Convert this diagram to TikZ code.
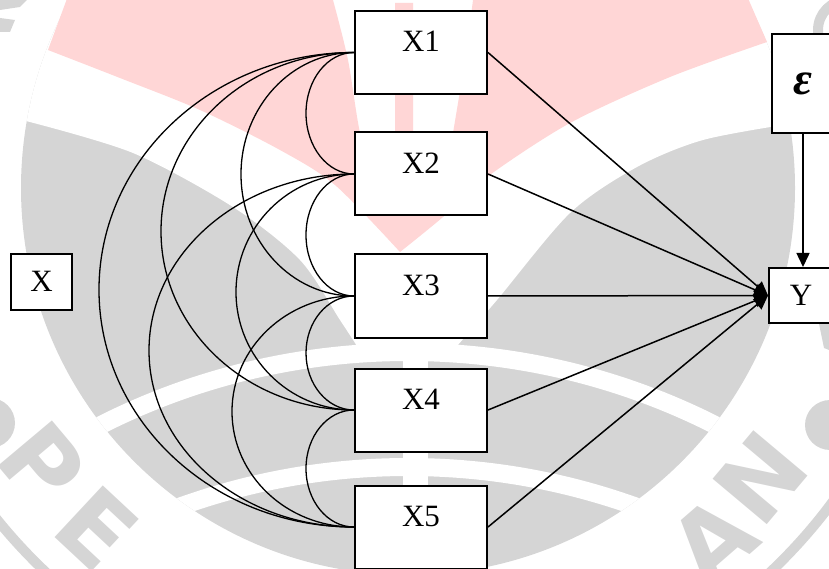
\documentclass[tikz,border=0pt]{standalone}
\usepackage{fontspec}
\setmainfont{Liberation Serif}
\newfontfamily\ringfont{DejaVu Sans}
\usetikzlibrary{arrows.meta,calc}

\definecolor{wmgray}{RGB}{213,213,213}
\definecolor{wmpink}{RGB}{255,214,214}

\newcommand\lblfont{\fontsize{31}{31}\selectfont}
\newcommand\ringletter{\ringfont\bfseries\fontsize{97}{97}\selectfont}

\tikzset{
  varbox/.style={draw, line width=2pt, fill=white, minimum width=132pt,
    inner xsep=0pt, inner ysep=0pt, text height=41pt, text depth=42pt, font=\lblfont},
  endbox/.style={draw, line width=2pt, fill=white, inner sep=0pt,
    text height=20pt, text depth=0pt, font=\lblfont},
  effect/.style={line width=1.5pt, -{Triangle[length=14pt,width=13pt]}},
  corr/.style={line width=1.3pt},
  ringmark/.style={text=wmgray, font=\ringletter, inner sep=0pt}
}

% correlation arc: half ellipse on the left side of two boxes
\newcommand\corrarc[3]{%
  \draw[corr] let \p1=(#1.west), \p2=(#2.west) in
    (\p1) arc[start angle=90, end angle=270, x radius=#3pt, y radius={0.5*(\y1-\y2)}];}

\begin{document}
\begin{tikzpicture}[x=1pt,y=1pt]
\useasboundingbox (0,0) rectangle (829,568);
\clip (0,0) rectangle (829,568);

% ---- emblem in the background ----
\fill[wmgray] (408,380) circle[radius=387];
\begin{scope}
  \clip (408,380) circle[radius=387];
  \fill[white, even odd rule] (408,-465) circle[radius=690] (408,-465) circle[radius=672];
  \fill[white, even odd rule] (408,-572) circle[radius=682] (408,-572) circle[radius=664];
  \fill[white] (403,-10) rectangle (428,226);
  \fill[white] (10,447) -- (26,447)
    -- plot[smooth] coordinates {(26,447) (133,415) (233,361) (300,308) (340,248) (357,222)}
    -- (457,222)
    -- plot[smooth] coordinates {(457,222) (497,268) (570,355) (637,401) (703,428) (789,444)}
    -- (800,444) -- (800,600) -- (10,600) -- cycle;
\end{scope}
\draw[wmgray, line width=10pt] (408,380) circle[radius=528];
\fill[wmpink] (48,518) -- (68,572) -- (331,572)
  -- plot[smooth] coordinates {(333,568) (348,508) (360,435) (378,368)}
  -- (395,380) -- (395,565) -- (413,565) -- (413,380) -- (432,368)
  -- plot[smooth] coordinates {(453,435) (465,508) (473,568)}
  -- (473,572) -- (747,572) -- (767,526)
  -- plot[smooth] coordinates {(767,526) (670,491) (570,445) (487,391) (443,351) (400,316)}
  -- plot[smooth] coordinates {(400,316) (335,383) (280,418) (200,458) (120,490) (48,518)}
  -- cycle;
\node[ringmark, rotate=-50] (ringP) at (42,104) {P};
\node[ringmark, rotate=-43] (ringE) at (97,40) {E};
\node[ringmark, rotate=50] (ringN) at (760,90) {N};
\node[ringmark, rotate=41] (ringA) at (713,28) {A};
\fill[wmgray] (830,143) circle[radius=25];
\fill[wmgray] (-10,145) circle[radius=25];
\fill[wmgray] (818,249) -- (829,252) -- (829,218) -- (824,220) -- cycle;
\draw[wmgray, line width=10pt] (848,538) circle[radius=30];
\fill[wmgray] (0,568) -- (27,568) -- (20,561) -- (0,558) -- cycle;
\fill[wmgray] (0,550) -- (15,548) -- (10,536) -- (0,536) -- cycle;

% ---- boxes ----
\node[varbox] (X1) at (421,515.5) {X1};
\node[varbox] (X2) at (421,394) {X2};
\node[varbox] (X3) at (421,272) {X3};
\node[varbox] (X4) at (421,158) {X4};
\node[varbox] (X5) at (421,41) {X5};
\node[endbox, minimum width=61pt, minimum height=56pt] (X) at (41.5,286) {X};
\node[endbox, minimum width=64pt, minimum height=55pt] (Y) at (801,272.5) {Y};
\node[draw, line width=2pt, fill=white, inner sep=0pt, minimum width=62pt,
  minimum height=99pt, font=\fontsize{46}{46}\selectfont\bfseries\itshape]
  (eps) at (803,484.5) {ε};

% ---- correlations ----
\corrarc{X1}{X2}{48}
\corrarc{X2}{X3}{48}
\corrarc{X3}{X4}{48}
\corrarc{X4}{X5}{48}
\corrarc{X1}{X3}{113}
\corrarc{X2}{X4}{118}
\corrarc{X3}{X5}{122}
\corrarc{X1}{X4}{193}
\corrarc{X2}{X5}{205}
\corrarc{X1}{X5}{255}

% ---- effects on Y ----
\foreach \k in {1,...,5}{\draw[effect] (X\k.east) -- (Y.west);}
\draw[effect] (eps.south) -- (eps.south |- Y.north);
\end{tikzpicture}
\end{document}
